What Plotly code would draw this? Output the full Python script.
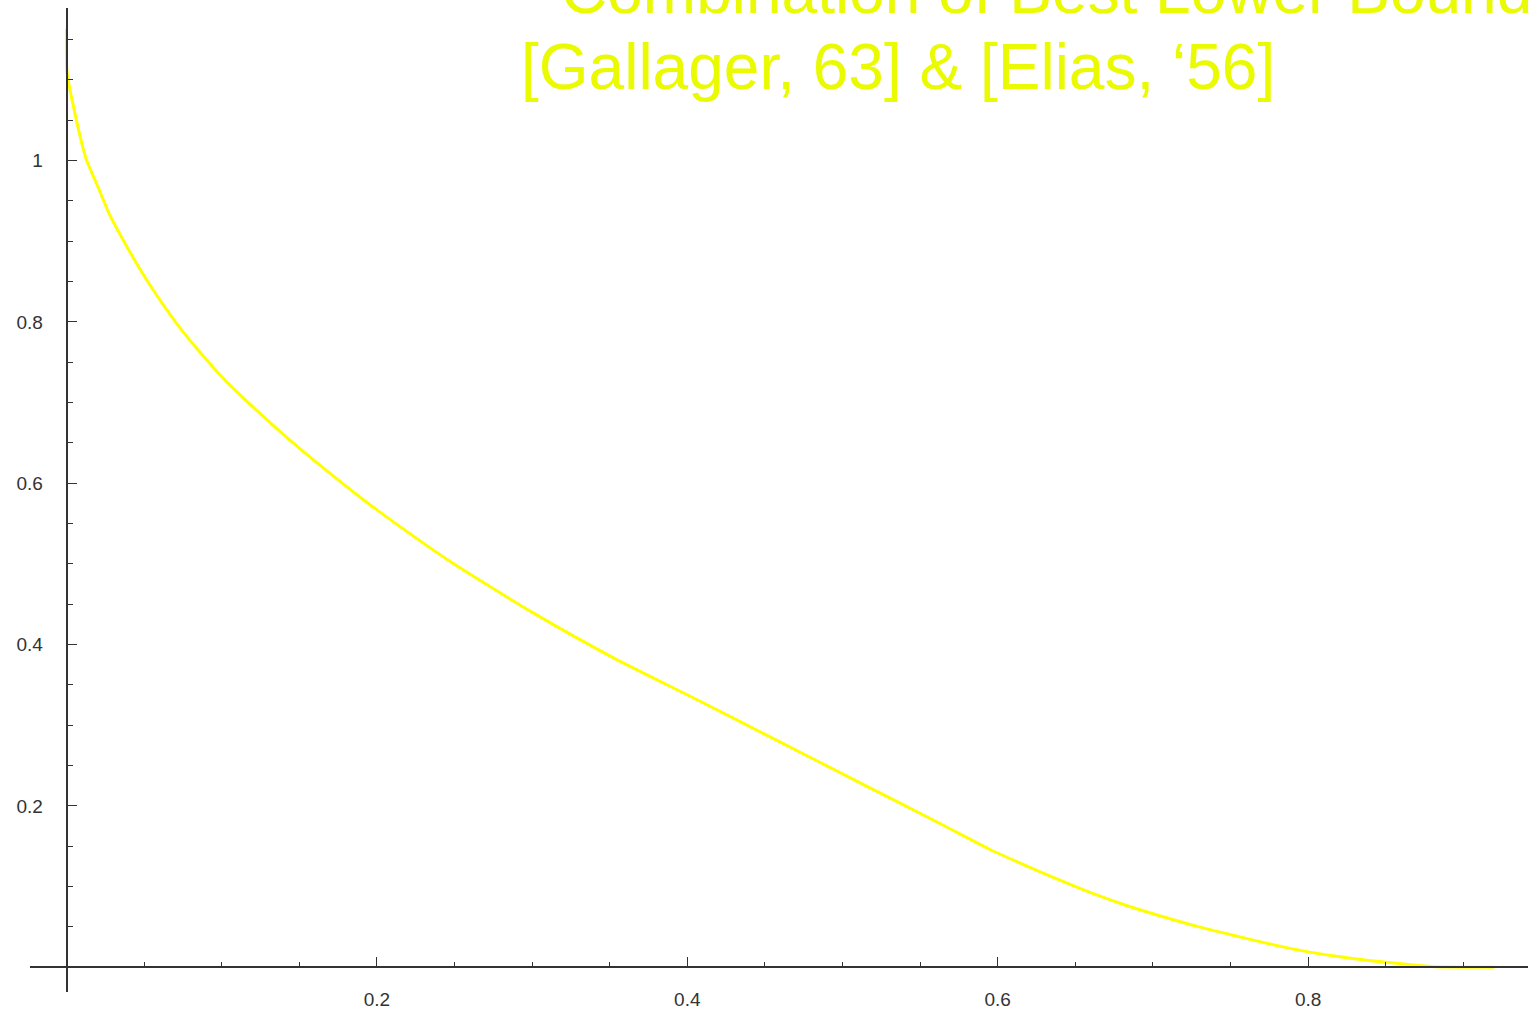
import plotly.graph_objects as go

# ---- data ----
x_vals = [0.0, 0.0002, 0.002, 0.0055, 0.009, 0.013, 0.0195, 0.028, 0.039, 0.052,
          0.071, 0.088, 0.103, 0.125, 0.146, 0.168, 0.189, 0.2, 0.248, 0.301,
          0.353, 0.406, 0.459, 0.511, 0.564, 0.595, 0.617, 0.64, 0.662, 0.684,
          0.706, 0.728, 0.751, 0.773, 0.795, 0.817, 0.839, 0.862, 0.882, 0.92]
y_vals = [1.163, 1.112, 1.09, 1.058, 1.028, 1.0, 0.971, 0.932, 0.893, 0.851,
          0.798, 0.758, 0.726, 0.686, 0.650, 0.615, 0.583, 0.567, 0.502, 0.439,
          0.383, 0.332, 0.28, 0.229, 0.177, 0.146, 0.127, 0.108, 0.091, 0.076,
          0.063, 0.051, 0.040, 0.030, 0.021, 0.014, 0.0085, 0.004, 0.0007, 0.0]

x_ticks = [0.2, 0.4, 0.6, 0.8]
x_tick_labels = ["0.2", "0.4", "0.6", "0.8"]
x_minor = [0.05, 0.1, 0.15, 0.25, 0.3, 0.35, 0.45, 0.5, 0.55, 0.65, 0.7, 0.75, 0.85, 0.9]
y_ticks = [0.2, 0.4, 0.6, 0.8, 1.0]
y_tick_labels = ["0.2", "0.4", "0.6", "0.8", "1"]
y_minor = [0.05, 0.1, 0.15, 0.25, 0.3, 0.35, 0.45, 0.5, 0.55, 0.65, 0.7, 0.75,
           0.85, 0.9, 0.95, 1.05, 1.1, 1.15]

title_line1 = "Combination of Best Lower Bound"
title_line2 = "[Gallager, 63] & [Elias, \u201856]"

# ---- geometry ----
W, H = 1532, 1013
ml, mr, mt, mb = 30, 4, 8, 21
x0_px, x_scale = 66.5, 1552.0
y0_px, y_scale = 967.3, 806.7
xmin = (ml - x0_px) / x_scale
xmax = (W - mr - x0_px) / x_scale
ymax = (y0_px - mt) / y_scale
ymin = (y0_px - (H - mb)) / y_scale
plot_w = W - ml - mr
plot_h = H - mt - mb

def px_to_paper_x(px):
    return (px - ml) / plot_w

def px_to_paper_y(py):
    return (H - mb - py) / plot_h

axis_color = "#333333"
tick_font = dict(family="Liberation Sans, Arial, sans-serif", size=19, color="#333333")

fig = go.Figure()
fig.add_trace(go.Scatter(x=x_vals, y=y_vals, mode="lines",
                         line=dict(color="#FFFF00", width=3, shape="spline", smoothing=0.6),
                         showlegend=False, hoverinfo="skip"))

fig.update_layout(
    width=W, height=H,
    margin=dict(l=ml, r=mr, t=mt, b=mb, pad=0, autoexpand=False),
    paper_bgcolor="white", plot_bgcolor="white",
    xaxis=dict(range=[xmin, xmax], anchor="free", automargin=False,
               position=(0 - ymin) / (ymax - ymin),
               showgrid=False, zeroline=False,
               showline=True, linecolor=axis_color, linewidth=1.5,
               tickmode="array", tickvals=x_ticks, ticktext=x_tick_labels,
               ticks="inside", ticklen=10, tickwidth=1.3, tickcolor=axis_color,
               tickfont=tick_font, ticklabelstandoff=15,
               minor=dict(tickmode="array", tickvals=x_minor, ticks="inside",
                          ticklen=5, tickwidth=1.3, tickcolor=axis_color,
                          showgrid=False)),
    yaxis=dict(range=[ymin, ymax], anchor="free", automargin=False,
               position=(0 - xmin) / (xmax - xmin),
               showgrid=False, zeroline=False,
               showline=True, linecolor=axis_color, linewidth=1.5,
               tickmode="array", tickvals=y_ticks, ticktext=y_tick_labels,
               ticks="inside", ticklen=10, tickwidth=1.3, tickcolor=axis_color,
               tickfont=tick_font, ticklabelstandoff=19,
               minor=dict(tickmode="array", tickvals=y_minor, ticks="inside",
                          ticklen=6, tickwidth=1.3, tickcolor=axis_color,
                          showgrid=False)),
)

title_font = dict(family="Liberation Sans, Arial, sans-serif", size=64, color="#EAFA00")
fig.add_annotation(text=title_line1, xref="paper", yref="paper",
                   x=px_to_paper_x(560), y=px_to_paper_y(-9),
                   xanchor="left", yanchor="middle", showarrow=False,
                   font=title_font, borderpad=0)
fig.add_annotation(text=title_line2, xref="paper", yref="paper",
                   x=px_to_paper_x(520), y=px_to_paper_y(67),
                   xanchor="left", yanchor="middle", showarrow=False,
                   font=title_font, borderpad=0)

fig.write_html("out.html", config={"displayModeBar": False},
               post_script="document.body.style.margin='0px';document.body.style.overflow='hidden';")
